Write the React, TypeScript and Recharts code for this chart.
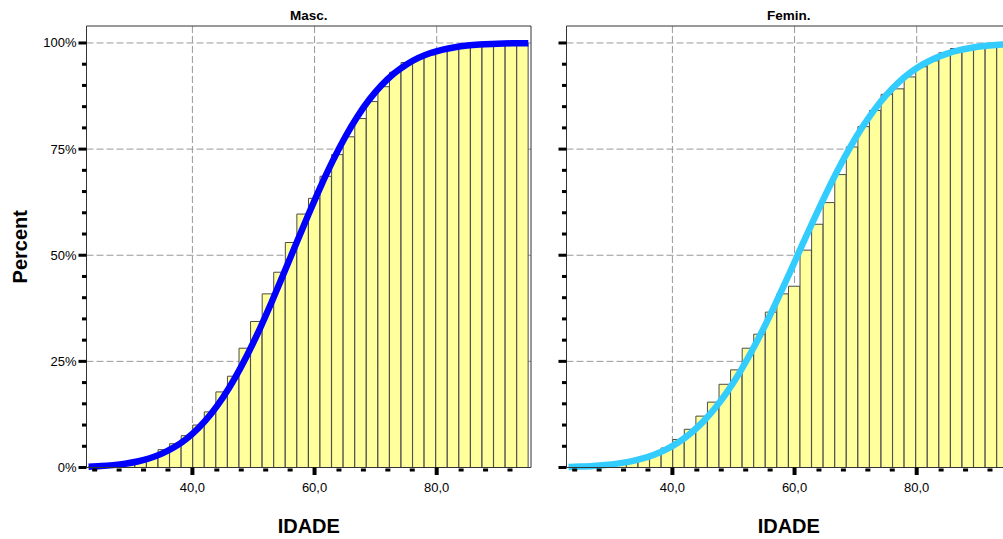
import React from 'react';
import { ComposedChart, Bar, Line, XAxis, YAxis, CartesianGrid, ReferenceLine } from 'recharts';

// histogram bins (midpoints of the age classes)
const binMids = [
  23.95, 25.84, 27.74, 29.63, 31.53, 33.42, 35.32, 37.21, 39.11, 41.0,
  42.89, 44.79, 46.68, 48.58, 50.47, 52.37, 54.26, 56.16, 58.05, 59.95,
  61.84, 63.74, 65.63, 67.53, 69.42, 71.32, 73.21, 75.11, 77.0, 78.89,
  80.79, 82.68, 84.58, 86.47, 88.37, 90.26, 92.16, 94.05,
];

// cumulative percent per bin
const mascCum = [
  0.2, 0.4, 0.8, 1.2, 1.9, 2.4, 4.2, 5.6, 7.5, 10.0,
  13.1, 17.8, 21.5, 28.1, 34.4, 40.9, 46.0, 53.0, 59.7, 63.4,
  68.6, 73.7, 77.9, 82.2, 86.2, 89.7, 93.1, 95.4, 96.4, 97.2,
  98.2, 98.7, 99.1, 99.5, 99.6, 99.8, 99.9, 100,
];
const feminCum = [
  0.1, 0.2, 0.3, 0.5, 0.8, 1.2, 2.2, 3.2, 4.6, 6.6,
  9.0, 12.1, 15.4, 19.6, 23.0, 28.1, 31.4, 36.6, 40.9, 42.7,
  51.2, 57.3, 62.4, 69.0, 75.5, 80.3, 84.1, 87.9, 89.2, 92.0,
  94.4, 95.8, 97.7, 98.7, 99.1, 99.3, 99.3, 100,
];

// fitted normal curve
const curveAges = [
  23, 25, 27, 29, 31, 33, 35, 37, 39, 41, 43, 45, 47, 49, 51, 53, 55, 57, 59,
  61, 63, 65, 67, 69, 71, 73, 75, 77, 79, 81, 83, 85, 87, 89, 91, 93, 95,
];
const mascNormal = [
  0.19, 0.33, 0.56, 0.9, 1.42, 2.18, 3.27, 4.75, 6.73, 9.31,
  12.55, 16.5, 21.19, 26.56, 32.56, 39.05, 45.85, 52.78, 59.6, 66.18,
  72.28, 77.79, 82.62, 86.72, 90.09, 92.8, 94.89, 96.48, 97.63, 98.45,
  99.01, 99.39, 99.63, 99.78, 99.88, 99.93, 99.96,
];
const feminNormal = [
  0.13, 0.23, 0.37, 0.59, 0.91, 1.39, 2.07, 3.01, 4.27, 5.94,
  8.08, 10.75, 14.01, 17.88, 22.36, 27.43, 32.99, 38.97, 45.22, 51.6,
  57.93, 64.06, 69.85, 75.17, 79.95, 84.13, 87.7, 90.66, 93.06, 94.95,
  96.41, 97.5, 98.3, 98.87, 99.27, 99.53, 99.71,
];

const xTicks = [24, 28, 32, 36, 40, 44, 48, 52, 56, 60, 64, 68, 72, 76, 80, 84, 88, 92];
const xMajor = [40, 60, 80];
const yTicks = [0, 5, 10, 15, 20, 25, 30, 35, 40, 45, 50, 55, 60, 65, 70, 75, 80, 85, 90, 95, 100];
const yMajor = [0, 25, 50, 75, 100];

const X_DOMAIN: [number, number] = [22.66, 95.44];
const Y_DOMAIN: [number, number] = [0, 104];
const FONT = '"Liberation Sans", Arial, sans-serif';

const XTick = (props: any) => {
  const { x, y, payload } = props;
  const v = payload.value;
  if (xMajor.includes(v)) {
    return (
      <g>
        <rect x={x - 2} y={y} width={4} height={7.5} fill="#000" />
        <text x={x} y={y + 24} textAnchor="middle" fontSize={13} fill="#000" fontFamily={FONT}>
          {v.toFixed(1).replace('.', ',')}
        </text>
      </g>
    );
  }
  return <rect x={x - 2.5} y={y + 1} width={5} height={3} fill="#000" />;
};

const makeYTick = (showLabels: boolean) => (props: any) => {
  const { x, y, payload } = props;
  const v = payload.value;
  const major = yMajor.includes(v);
  return (
    <g>
      <rect x={major ? x - 8 : x - 4.5} y={y - 1.5} width={major ? 8 : 4.5} height={3} fill="#000" />
      {showLabels && major && (
        <text x={x - 10} y={y + 4.5} textAnchor="end" fontSize={13} fill="#000" fontFamily={FONT}>
          {`${v}%`}
        </text>
      )}
    </g>
  );
};

interface PanelProps {
  title: string;
  cum: number[];
  normal: number[];
  color: string;
  showYLabels: boolean;
}

const Panel: React.FC<PanelProps> = ({ title, cum, normal, color, showYLabels }) => {
  const bins = binMids.map((mid, i) => ({ mid, cum: cum[i] }));
  const curve = curveAges.map((x, i) => ({ x, p: normal[i] }));
  const YTick = makeYTick(showYLabels);

  return (
    <div style={{ position: 'relative', width: 545, height: 539 }}>
      <div
        style={{
          position: 'absolute', left: 86.5, width: 444.5, top: 8, textAlign: 'center',
          fontWeight: 'bold', fontSize: 13.5, fontFamily: FONT, lineHeight: '16px',
        }}
      >
        {title}
      </div>
      <ComposedChart width={545} height={539} data={bins} margin={{ top: 26, right: 14, bottom: 0, left: 0 }}>
        <CartesianGrid
          stroke="#999"
          strokeDasharray="7 3"
          horizontalValues={[25, 50, 75, 100]}
          verticalValues={xMajor}
        />
        <XAxis xAxisId="bins" dataKey="mid" type="number" domain={X_DOMAIN} hide />
        <XAxis
          dataKey="x"
          type="number"
          domain={X_DOMAIN}
          ticks={xTicks}
          interval={0}
          tick={<XTick />}
          tickLine={false}
          tickSize={0}
          tickMargin={0}
          height={71.5}
          axisLine={{ stroke: '#333' }}
          label={{
            value: 'IDADE', position: 'insideBottom', offset: 6,
            style: { fontSize: 20, fontWeight: 'bold', fontFamily: FONT, fill: '#000' },
          }}
        />
        <YAxis
          type="number"
          domain={Y_DOMAIN}
          ticks={yTicks}
          interval={0}
          tick={<YTick />}
          tickLine={false}
          tickSize={0}
          tickMargin={0}
          width={86.5}
          axisLine={{ stroke: '#333' }}
          label={showYLabels ? {
            value: 'Percent', angle: -90, position: 'insideLeft', offset: 20,
            style: { textAnchor: 'middle', fontSize: 20, fontWeight: 'bold', fontFamily: FONT, fill: '#000' },
          } : undefined}
        />
        <Bar
          xAxisId="bins"
          dataKey="cum"
          fill="#FFFF9C"
          stroke="#4a4a4a"
          strokeWidth={1}
          barSize={11.4}
          isAnimationActive={false}
        />
        <Line
          data={curve}
          dataKey="p"
          type="monotone"
          stroke={color}
          strokeWidth={6.5}
          dot={false}
          activeDot={false}
          isAnimationActive={false}
        />
        <ReferenceLine y={Y_DOMAIN[1]} stroke="#333" />
        <ReferenceLine x={X_DOMAIN[1]} stroke="#333" />
      </ComposedChart>
    </div>
  );
};

export default function App() {
  return (
    <div
      style={{
        position: 'absolute', left: 0, top: 0, width: 1003, height: 539,
        overflow: 'hidden', background: '#fff',
      }}
    >
      <div style={{ position: 'absolute', left: 0, top: 0 }}>
        <Panel title="Masc." cum={mascCum} normal={mascNormal} color="#0000FF" showYLabels />
      </div>
      <div style={{ position: 'absolute', left: 480, top: 0 }}>
        <Panel title="Femin." cum={feminCum} normal={feminNormal} color="#33CCFF" showYLabels={false} />
      </div>
    </div>
  );
}
